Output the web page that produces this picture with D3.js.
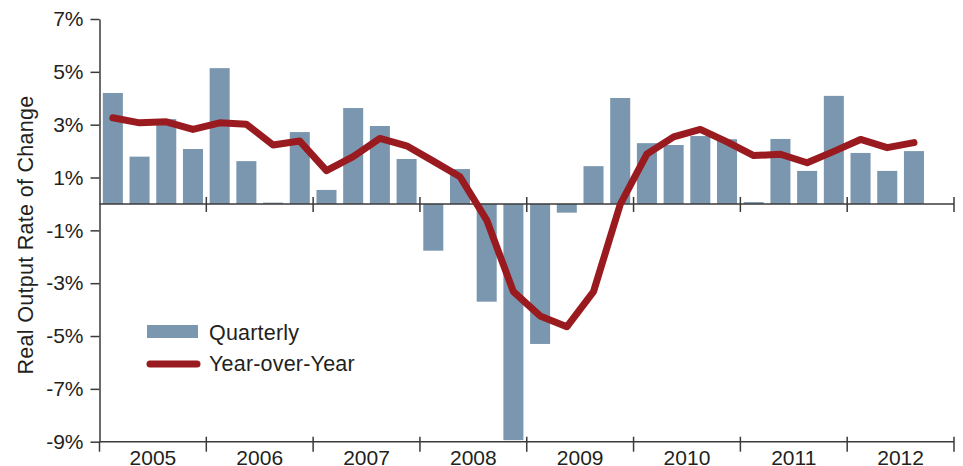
<!DOCTYPE html>
<html>
<head>
<meta charset="utf-8">
<script src="https://cdn.jsdelivr.net/npm/d3@7/dist/d3.min.js"></script>
<style>
  body { margin: 0; background: #fff; }
  text { font-family: "Liberation Sans", Arial, sans-serif; fill: #231f20; }
</style>
</head>
<body>
<div id="chart"></div>
<script>
// Data (percent)
const years = ["2005", "2006", "2007", "2008", "2009", "2010", "2011", "2012"];
const quarterNames = ["Q1", "Q2", "Q3", "Q4"];
const quarters = years.flatMap(y => quarterNames.map(q => y + q));
const quarterly = [4.2, 1.79, 3.21, 2.08, 5.14, 1.62, 0.05, 2.72,
                   0.53, 3.63, 2.95, 1.7, -1.77, 1.32, -3.7, -8.94,
                   -5.3, -0.33, 1.43, 4.01, 2.3, 2.23, 2.57, 2.45,
                   0.07, 2.46, 1.25, 4.09, 1.93, 1.25, 2.0, null];
const yearOverYear = [3.26, 3.07, 3.11, 2.82, 3.07, 3.02, 2.23, 2.38,
                      1.26, 1.79, 2.48, 2.2, 1.62, 1.03, -0.61, -3.32,
                      -4.24, -4.65, -3.32, -0.02, 1.89, 2.54, 2.82, 2.35,
                      1.83, 1.88, 1.56, 1.99, 2.44, 2.13, 2.32, null];
const yTicks = [-9, -7, -5, -3, -1, 1, 3, 5, 7];
const legendLabels = ["Quarterly", "Year-over-Year"];

const W = 963, H = 466;
const plotLeft = 99.5, plotRight = 954, plotTop = 19, plotBottom = 441.7;
const barColor = "#7b97b0", lineColor = "#9a1b1f", axisColor = "#3a3a3a";

const svg = d3.select("#chart").append("svg")
    .attr("width", W)
    .attr("height", H);

// Scales
const x = d3.scaleBand()
    .domain(quarters)
    .range([plotLeft, plotRight])
    .paddingInner(0.25)
    .paddingOuter(0.125);

const xYear = d3.scaleBand()
    .domain(years)
    .range([plotLeft, plotRight]);

const y = d3.scaleLinear()
    .domain([-9, 7])
    .range([plotBottom, plotTop]);

// Bars
svg.append("g").selectAll("rect")
    .data(quarters.map((q, i) => ({ q: q, v: quarterly[i] })).filter(d => d.v !== null))
    .enter().append("rect")
    .attr("x", d => x(d.q))
    .attr("width", x.bandwidth())
    .attr("y", d => y(Math.max(0, d.v)))
    .attr("height", d => Math.abs(y(d.v) - y(0)))
    .attr("fill", barColor);

// Y axis
const yAxis = svg.append("g")
    .attr("transform", "translate(" + plotLeft + ",0)")
    .call(d3.axisLeft(y).tickValues(yTicks).tickSize(9).tickSizeOuter(0).tickPadding(7)
        .tickFormat(d => d + "%"));
yAxis.attr("font-family", null).attr("font-size", null);
yAxis.selectAll("text").style("font-size", "21px");
yAxis.selectAll("line, path").attr("stroke", axisColor).attr("stroke-width", 1.5);

// extend y axis a little below the bottom axis
svg.append("line")
    .attr("x1", plotLeft).attr("x2", plotLeft)
    .attr("y1", plotBottom).attr("y2", plotBottom + 10)
    .attr("stroke", axisColor).attr("stroke-width", 1.5);

// Zero line and bottom line
[0, -9].forEach(v => {
    svg.append("line")
        .attr("x1", plotLeft).attr("x2", plotRight)
        .attr("y1", y(v)).attr("y2", y(v))
        .attr("stroke", axisColor).attr("stroke-width", 1.5);
});

// Year tick marks at year boundaries
const boundaries = years.slice(1).map(yr => xYear(yr)).concat([plotRight]);
svg.append("g").selectAll("line")
    .data(boundaries)
    .enter().append("line")
    .attr("x1", d => d).attr("x2", d => d)
    .attr("y1", y(0) - 7).attr("y2", y(0) + 8)
    .attr("stroke", axisColor).attr("stroke-width", 1.5);
svg.append("g").selectAll("line")
    .data(boundaries)
    .enter().append("line")
    .attr("x1", d => d).attr("x2", d => d)
    .attr("y1", plotBottom - 5).attr("y2", plotBottom + 10)
    .attr("stroke", axisColor).attr("stroke-width", 1.5);

// Year labels
svg.append("g").selectAll("text")
    .data(years)
    .enter().append("text")
    .attr("x", d => xYear(d) + xYear.bandwidth() / 2)
    .attr("y", 465)
    .attr("text-anchor", "middle")
    .style("font-size", "21px")
    .text(d => d);

// Year-over-year line
const line = d3.line()
    .defined(d => d.v !== null)
    .x(d => x(d.q) + x.bandwidth() / 2)
    .y(d => y(d.v));

svg.append("path")
    .datum(quarters.map((q, i) => ({ q: q, v: yearOverYear[i] })))
    .attr("d", line)
    .attr("fill", "none")
    .attr("stroke", lineColor)
    .attr("stroke-width", 7)
    .attr("stroke-linejoin", "round")
    .attr("stroke-linecap", "round");

// Y axis title
svg.append("text")
    .attr("transform", "translate(33,235) rotate(-90)")
    .attr("text-anchor", "middle")
    .style("font-size", "21.5px")
    .style("letter-spacing", "0.3px")
    .text("Real Output Rate of Change");

// Legend
svg.append("rect")
    .attr("x", 147).attr("y", 325)
    .attr("width", 51).attr("height", 13)
    .attr("fill", barColor);
svg.append("line")
    .attr("x1", 150).attr("x2", 197)
    .attr("y1", 364).attr("y2", 364)
    .attr("stroke", lineColor)
    .attr("stroke-width", 7)
    .attr("stroke-linecap", "round");
svg.append("text")
    .attr("x", 209).attr("y", 340)
    .style("font-size", "21.5px")
    .style("letter-spacing", "0.2px")
    .text(legendLabels[0]);
svg.append("text")
    .attr("x", 209).attr("y", 371)
    .style("font-size", "21.5px")
    .style("letter-spacing", "0.2px")
    .text(legendLabels[1]);
</script>
</body>
</html>
